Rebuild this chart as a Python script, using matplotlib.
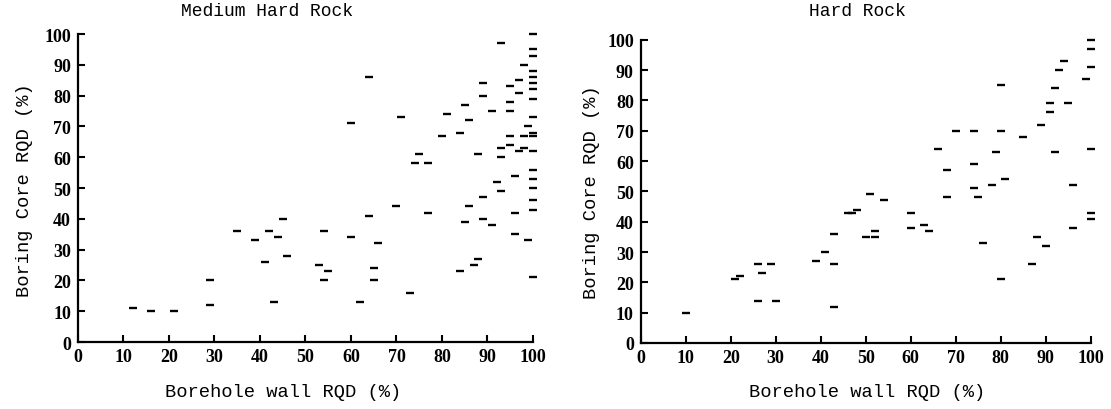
import matplotlib
matplotlib.use("Agg")
import matplotlib.pyplot as plt

# Medium hard rock: (borehole wall RQD, boring core RQD)
medium_x = [12, 16, 21, 29, 29, 35, 39, 42, 41, 43, 44, 45, 46,
            53, 55, 54, 54, 60, 62, 64, 66, 65, 65, 70, 73, 77,
            86, 85, 89, 91, 96, 96, 99, 100, 84, 87, 88,
            60, 64, 71, 75, 74, 77, 80, 81, 84, 85, 86, 88, 89, 89, 91, 93, 93, 93,
            92, 89, 93, 96, 95, 98, 97, 95, 98, 95, 97, 95, 97, 98, 95,
            100, 100, 100, 100, 100, 100, 100, 100, 100, 99, 100, 100, 100, 100,
            100, 100, 100, 100]
medium_y = [11, 10, 10, 20, 12, 36, 33, 36, 26, 13, 34, 40, 28,
            25, 23, 20, 36, 34, 13, 41, 32, 24, 20, 44, 16, 42,
            44, 39, 40, 38, 42, 35, 33, 21, 23, 25, 27,
            71, 86, 73, 61, 58, 58, 67, 74, 68, 77, 72, 61, 84, 80, 75, 97, 60, 63,
            52, 47, 49, 54, 64, 63, 62, 67, 67, 78, 81, 83, 85, 90, 75,
            100, 95, 93, 88, 86, 84, 82, 79, 73, 70, 68, 67, 62, 56,
            53, 50, 46, 43]

# Hard rock
hard_x = [10, 21, 22, 26, 29, 27, 26, 30, 39, 41, 43, 43, 43, 46, 47, 48,
          51, 54, 60, 66, 68, 68, 70, 74, 74, 74, 75, 79, 80, 80, 81, 78, 85,
          89, 91, 91, 92, 93, 94, 92, 95, 96, 99, 100, 100, 100, 100, 100, 100,
          50, 52, 52, 60, 63, 64, 76, 80, 87, 88, 90, 96]
hard_y = [10, 21, 22, 26, 26, 23, 14, 14, 27, 30, 36, 26, 12, 43, 43, 44,
          49, 47, 43, 64, 57, 48, 70, 70, 59, 51, 48, 63, 70, 85, 54, 52, 68,
          72, 79, 76, 84, 90, 93, 63, 79, 52, 87, 100, 97, 91, 64, 43, 41,
          35, 35, 37, 38, 39, 37, 33, 21, 26, 35, 32, 38]

ticks = list(range(0, 101, 10))

fig = plt.figure(figsize=(11.11, 4.10), dpi=100)
ax1 = fig.add_axes([0.0702, 0.1634, 0.4095, 0.7512])
ax2 = fig.add_axes([0.5767, 0.1610, 0.4050, 0.7397])

for ax, xs, ys in [(ax1, medium_x, medium_y), (ax2, hard_x, hard_y)]:
    ax.plot(xs, ys, linestyle="none", marker="_", color="black",
            markersize=6, markeredgewidth=1.7, clip_on=False)
    ax.set_xlim(0, 100)
    ax.set_ylim(0, 100)
    ax.set_xticks(ticks)
    ax.set_yticks(ticks)
    ax.spines["top"].set_visible(False)
    ax.spines["right"].set_visible(False)
    ax.spines["left"].set_linewidth(1.6)
    ax.spines["bottom"].set_linewidth(1.6)
    ax.tick_params(direction="in", length=5, width=1.5, color="black")
    ax.tick_params(axis="x", pad=4)
    ax.tick_params(axis="y", pad=5)
    for lab in ax.get_xticklabels() + ax.get_yticklabels():
        lab.set_fontfamily("Liberation Serif")
        lab.set_fontsize(13)
        lab.set_fontweight("bold")

mono = "Liberation Mono"
fig.text(267 / 1111, 1 - 12 / 410, "Medium Hard Rock", family=mono, fontsize=13,
         ha="center", va="center")
fig.text(857 / 1111, 1 - 12 / 410, "Hard Rock", family=mono, fontsize=13,
         ha="center", va="center")
fig.text(283 / 1111, 1 - 393 / 410, "Borehole wall RQD (%)", family=mono,
         fontsize=13.5, ha="center", va="center")
fig.text(867 / 1111, 1 - 393 / 410, "Borehole wall RQD (%)", family=mono,
         fontsize=13.5, ha="center", va="center")
fig.text(25 / 1111, 1 - 190 / 410, "Boring Core RQD (%)", family=mono,
         fontsize=13.5, ha="center", va="center", rotation=90)
fig.text(592 / 1111, 1 - 192 / 410, "Boring Core RQD (%)", family=mono,
         fontsize=13.5, ha="center", va="center", rotation=90)

fig.savefig("out.png", dpi=100)
